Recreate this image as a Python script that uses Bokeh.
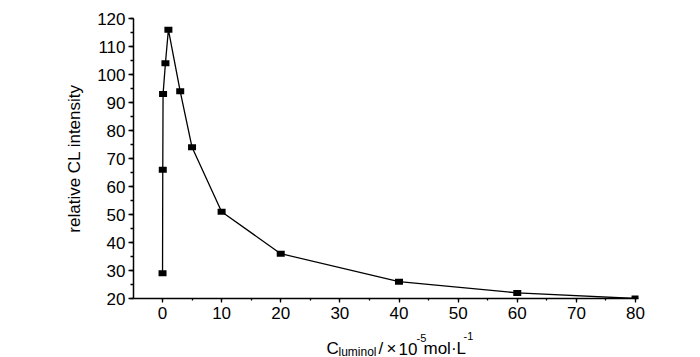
from bokeh.plotting import figure
from bokeh.models import Range1d, SingleIntervalTicker, Label
from bokeh.layouts import column
from bokeh.embed import file_html
from bokeh.resources import INLINE

# Data
conc = [0.01, 0.05, 0.1, 0.5, 1, 3, 5, 10, 20, 40, 60, 80]
intensity = [29, 66, 93, 104, 116, 94, 74, 51, 36, 26, 22, 20]

x_ticks_interval = 10
y_ticks_interval = 10
y_label = "relative CL intensity"
x_label_parts = ["C", "luminol", "/", "×", "10", "-5", "mol·L", "-1"]

FONT = "Liberation Sans"
W = 700
H_MAIN = 328
H_LABEL = 29
BL, BR = 133, 62

p = figure(width=W, height=H_MAIN, output_backend="svg", toolbar_location=None,
           x_range=Range1d(-4.9, 80.5), y_range=Range1d(20, 120),
           min_border_left=BL, min_border_right=BR, min_border_top=18, min_border_bottom=30)
p.outline_line_color = None
p.background_fill_color = "white"
p.border_fill_color = "white"
p.xgrid.visible = False
p.ygrid.visible = False

p.line(conc, intensity, line_color="black", line_width=1.3)
p.rect(conc, intensity, width=8, height=6, width_units="screen", height_units="screen",
       fill_color="black", line_color=None)

for ax in (p.xaxis[0], p.yaxis[0]):
    ax.axis_line_color = "black"
    ax.axis_line_width = 1.5
    ax.major_tick_line_color = "black"
    ax.minor_tick_line_color = "black"
    ax.major_tick_line_width = 1.3
    ax.minor_tick_line_width = 1.3
    ax.major_tick_in = 0
    ax.minor_tick_in = 0
    ax.major_label_text_font = FONT
    ax.major_label_text_font_size = "17px"
    ax.major_label_text_color = "black"
    ax.axis_label_text_font = FONT
    ax.axis_label_text_font_size = "17px"
    ax.axis_label_text_font_style = "normal"
    ax.axis_label_text_color = "black"

p.xaxis.ticker = SingleIntervalTicker(interval=x_ticks_interval, num_minor_ticks=2)
p.yaxis.ticker = SingleIntervalTicker(interval=y_ticks_interval, num_minor_ticks=2)
p.xaxis.major_tick_out = 4
p.xaxis.minor_tick_out = 2
p.yaxis.major_tick_out = 5
p.yaxis.minor_tick_out = 3
p.xaxis.major_label_standoff = 4
p.yaxis.major_label_standoff = 3
p.yaxis.axis_label = y_label
p.yaxis.axis_label_standoff = 10

# strip below the chart that carries the x-axis title (with sub/superscripts);
# its frame lines up with the main frame, its x range is in page pixels
q = figure(width=W, height=H_LABEL, output_backend="svg", toolbar_location=None,
           x_range=Range1d(BL, W - BR), y_range=Range1d(0, H_LABEL),
           x_axis_type=None, y_axis_type=None,
           min_border_left=BL, min_border_right=BR, min_border_top=0, min_border_bottom=0)
q.outline_line_color = None
q.xgrid.visible = False
q.ygrid.visible = False
q.background_fill_color = "white"
q.border_fill_color = "white"

# (x, baseline y from the strip's bottom, font size) for each piece
layout_spec = [(326, 9, "17px"), (338, 6, "12px"), (378, 9, "17px"), (386, 9, "17px"),
               (398, 9, "17px"), (416, 20, "11px"), (423, 9, "17px"), (463, 22, "11px")]
for txt, (sx, sy, fs) in zip(x_label_parts, layout_spec):
    q.add_layout(Label(x=sx, y=sy, text=txt, text_font=FONT, text_font_size=fs,
                       text_color="black", text_baseline="alphabetic", text_align="left"))

open("out.html", "w").write(file_html(column(p, q, spacing=0), INLINE))
